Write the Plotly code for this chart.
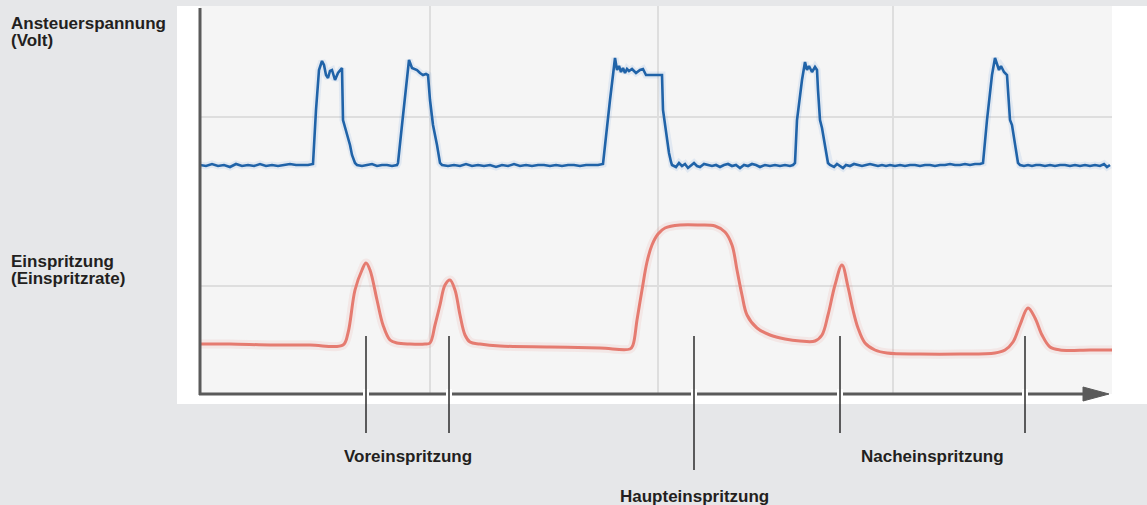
import plotly.graph_objects as go

# ---- Ansteuerspannung (control voltage), time in arbitrary units ----
volt_t = [0, 6, 12, 18, 24, 30, 36, 42, 48, 54, 60, 66, 72, 78, 84, 90, 96, 102, 108, 113,
          116, 119, 122, 124, 126, 128, 130, 132, 135, 138, 140, 142, 143, 145, 147, 150, 152, 155, 157,
          162, 167, 172, 177, 182, 187, 192, 197,
          198, 202, 206, 209, 212, 215, 217, 220, 223, 226, 228, 230, 233, 237, 240, 242,
          248, 254, 260, 266, 272, 278, 284, 290, 296, 302, 308, 314, 320, 326, 332, 338, 344, 350,
          356, 362, 368, 374, 380, 386, 392, 398, 403,
          407, 410, 413, 415, 417, 419, 421, 423, 425, 427, 429, 432, 436, 440, 443, 446, 450, 455,
          460, 462, 463, 465, 467, 469, 471, 472,
          476, 479, 482, 485, 488, 491, 494, 497, 500, 504, 508, 512, 516, 520, 524, 528, 532, 536,
          540, 544, 548, 552, 556, 560, 565, 570, 575, 580, 585, 590, 593,
          595, 597, 600, 602, 605, 607, 609, 612, 615, 617, 618, 620, 622, 625, 628, 630,
          634, 637, 640, 643, 646, 650, 654, 658, 662, 666, 670, 674, 678, 682, 686, 690, 695, 700,
          705, 710, 715, 720, 725, 730, 735, 740, 745, 750, 755, 760, 765, 770, 775, 780, 783,
          787, 790, 792, 795, 797, 799, 801, 804, 807, 808, 810, 812, 815, 818, 820,
          824, 828, 832, 836, 840, 845, 850, 855, 860, 865, 870, 875, 880, 885, 890, 895, 900, 904,
          907, 910]
volt_v = [0, -1, 1, -1, 0, -2, 1, -1, 0, -1, 1, -1, 0, -1, 0, 1, 0, 0, 0, 1,
          55, 95, 104, 100, 90, 87, 94, 95, 85, 92, 94, 97, 45, 38, 33, 20, 10, 2, 0,
          -1, 0, 1, -1, 0, 0, -1, 0,
          2, 40, 80, 105, 97, 96, 95, 92, 90, 91, 90, 65, 40, 20, 2, 0,
          -1, 0, -1, 1, -1, 0, -1, 0, -2, 0, -1, 1, -1, 0, -1, 0, 0, -1,
          0, -1, 0, 0, -1, 0, 0, 0, 1,
          40, 65, 90, 107, 95, 99, 93, 97, 92, 96, 94, 96, 92, 95, 96, 90, 90, 90,
          90, 90, 55, 40, 30, 12, 3, 0,
          -2, 2, -1, 1, -3, 0, 2, -1, -2, 1, 0, -1, 0, -2, 0, 1, -1, 0,
          -3, 0, -1, 1, 0, -2, 0, -1, 0, -1, 0, -1, 0,
          2, 45, 70, 85, 103, 95, 99, 93, 98, 95, 75, 45, 37, 20, 2, 0,
          -2, 1, -1, -3, 0, -1, 1, 0, -1, 0, 1, 0, -1, 0, -1, 0, -1, 0,
          -1, 0, 0, -1, 0, 0, -1, 0, 0, 1, 0, 0, 1, 0, 1, 1, 2,
          45, 75, 90, 107, 100, 95, 99, 93, 90, 70, 45, 40, 20, 2, 0,
          -1, 0, -1, 0, 0, -1, 0, -1, 0, 0, -1, 0, -1, 0, -1, 0, -1, 1,
          -2, 0]

# ---- Einspritzrate (injection rate) ----
rate_t = [0, 30, 70, 110, 143, 148, 155, 162, 166, 170, 177, 183, 190, 197, 210, 225,
          230, 235, 240, 245, 250, 255, 260, 265, 270, 280, 300, 350, 400, 430,
          433, 437, 442, 447, 452, 458, 465, 480, 500, 515, 525, 532, 537, 542, 547, 557,
          570, 585, 600, 615, 622, 628, 635, 642, 648, 653, 658, 665, 675, 687,
          720, 760, 795, 805, 813, 820, 828, 835, 842, 850, 860, 890, 912]
rate_r = [11, 11, 10, 10, 10, 22, 65, 85, 92, 85, 55, 30, 15, 12, 11, 11,
          12, 30, 50, 70, 75, 65, 40, 20, 13, 11, 9, 8, 7, 6,
          10, 35, 65, 93, 110, 121, 127, 130, 130, 129, 123, 110, 85, 60, 40, 27,
          20, 16, 14, 14, 20, 40, 70, 90, 68, 45, 27, 12, 5, 2,
          1, 1, 2, 5, 13, 30, 47, 37, 20, 8, 5, 5, 5]

# ---- Labelled injection events (positions on the time axis) ----
vor_t = [166, 249]
haupt_t = [494]
nach_t = [640, 825]

y_labels = [("Ansteuerspannung", 23.5), ("(Volt)", 41), ("Einspritzung", 261), ("(Einspritzrate)", 278.5)]

W, H = 1147, 505
BG = "#e6e7e9"
TEXT = "#231f20"
AXIS = "#5a5a5a"
FONT = dict(family="Liberation Sans, Arial, sans-serif", size=17, color=TEXT, weight="bold")


def px(xp):
    return xp / W


def py(yp):
    return 1 - yp / H


x_dom = [px(200), px(1112)]
y_dom = [py(394), py(6)]

fig = go.Figure()

# soft halo under each curve
fig.add_trace(go.Scatter(x=rate_t, y=rate_r, yaxis="y2", mode="lines",
                         line=dict(color="rgba(225,120,110,0.11)", width=9, shape="spline", smoothing=1),
                         hoverinfo="skip"))
fig.add_trace(go.Scatter(x=volt_t, y=volt_v, mode="lines",
                         line=dict(color="rgba(90,150,215,0.13)", width=7),
                         hoverinfo="skip"))
fig.add_trace(go.Scatter(x=volt_t, y=volt_v, mode="lines", name="Ansteuerspannung",
                         line=dict(color="#2063a8", width=2.6)))
fig.add_trace(go.Scatter(x=rate_t, y=rate_r, yaxis="y2", mode="lines", name="Einspritzrate",
                         line=dict(color="#e57b70", width=3, shape="spline", smoothing=1)))

shapes = [
    # white panel and plotting field
    dict(type="rect", xref="paper", yref="paper", x0=px(177), x1=px(1147), y0=py(404), y1=py(6),
         fillcolor="#ffffff", line=dict(width=0), layer="below"),
    dict(type="rect", xref="paper", yref="paper", x0=px(200), x1=px(1112), y0=py(394), y1=py(6),
         fillcolor="#f5f5f5", line=dict(width=0), layer="below"),
    # y axis
    dict(type="line", xref="paper", yref="paper", x0=px(200), x1=px(200), y0=py(395), y1=py(8),
         line=dict(color=AXIS, width=3)),
    # time axis with arrow
    dict(type="line", xref="paper", yref="paper", x0=px(199), x1=px(1090), y0=py(394), y1=py(394),
         line=dict(color=AXIS, width=3)),
    dict(type="path", xref="paper", yref="paper",
         path=f"M {px(1083)} {py(387)} L {px(1109)} {py(394)} L {px(1083)} {py(401)} Z",
         fillcolor=AXIS, line=dict(color=AXIS, width=1)),
]

# leader lines from the injection events down to their captions,
# each one cutting a small gap through the time axis
for t in vor_t + nach_t + haupt_t:
    end = 470 if t in haupt_t else 433
    shapes.append(dict(type="line", xref="x", yref="paper", x0=t, x1=t, y0=py(389), y1=py(399),
                       line=dict(color="#ffffff", width=6)))
    shapes.append(dict(type="line", xref="x", yref="paper", x0=t, x1=t, y0=py(336), y1=py(end),
                       line=dict(color="#2b2b2b", width=1.5)))

annotations = []
for text, yp in y_labels:
    annotations.append(dict(text=text, xref="paper", yref="paper", x=px(9), y=py(yp),
                            xanchor="left", yanchor="middle", showarrow=False, font=FONT))

annotations.append(dict(text="Voreinspritzung", xref="x", yref="paper", x=sum(vor_t) / 2, y=py(456),
                        xanchor="center", yanchor="middle", showarrow=False, font=FONT))
annotations.append(dict(text="Haupteinspritzung", xref="x", yref="paper", x=haupt_t[0], y=py(496),
                        xanchor="center", yanchor="middle", showarrow=False, font=FONT))
annotations.append(dict(text="Nacheinspritzung", xref="x", yref="paper", x=sum(nach_t) / 2, y=py(456),
                        xanchor="center", yanchor="middle", showarrow=False, font=FONT))

fig.update_layout(
    width=W, height=H,
    margin=dict(l=0, r=0, t=0, b=0),
    paper_bgcolor=BG,
    plot_bgcolor="rgba(0,0,0,0)",
    showlegend=False,
    xaxis=dict(domain=x_dom, range=[0, 912], tickvals=[230, 458, 693], showticklabels=False,
               ticks="", showline=False, zeroline=False, showgrid=True,
               gridcolor="#dedede", gridwidth=1.5, fixedrange=True),
    yaxis=dict(domain=y_dom, range=[-229, 159], tickvals=[48, -121], showticklabels=False,
               ticks="", showline=False, zeroline=False, showgrid=True,
               gridcolor="#dedede", gridwidth=1.5, fixedrange=True),
    yaxis2=dict(overlaying="y", range=[-39, 349], visible=False, showgrid=False,
                zeroline=False, fixedrange=True),
    shapes=shapes,
    annotations=annotations,
)

fig.write_html("out.html")
